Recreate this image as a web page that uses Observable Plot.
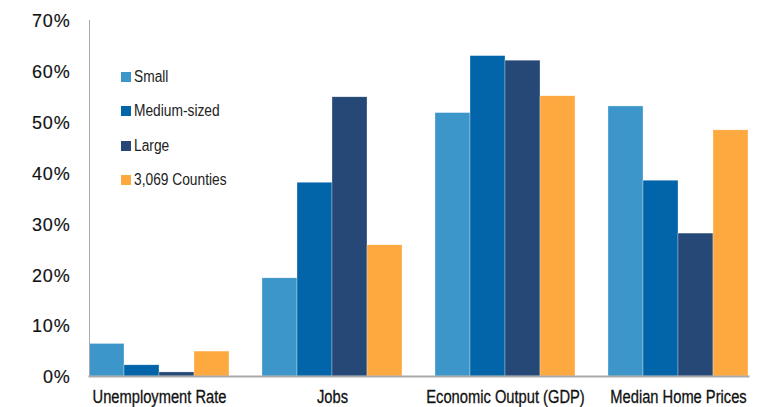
<!DOCTYPE html>
<html>
<head>
<meta charset="utf-8">
<script src="https://cdn.jsdelivr.net/npm/d3@7"></script>
<script src="https://cdn.jsdelivr.net/npm/@observablehq/plot@0.6"></script>
<style>
  html, body { margin: 0; padding: 0; background: #fff; }
  #wrap { position: relative; width: 766px; height: 407px; }
  #legend { position: absolute; left: 121px; top: 60px; font-family: "Liberation Sans", Arial, sans-serif; font-size: 16px; color: #222; }
  #legend .row { display: flex; align-items: center; height: 34.3px; }
  #legend .sw { width: 10px; height: 10px; margin-right: 3px; flex: none; }
  #legend .lab { display: inline-block; transform: scaleX(0.86); transform-origin: left center; white-space: nowrap; }
</style>
</head>
<body>
<div id="wrap"><div id="legend"></div></div>
<script>
const categories = ["Unemployment Rate", "Jobs", "Economic Output (GDP)", "Median Home Prices"];
const series = ["Small", "Medium-sized", "Large", "3,069 Counties"];
const colors = ["#3d96c9", "#0265a9", "#254876", "#fea840"];
const small = [6.4, 19.3, 51.8, 53.1];
const medium = [2.2, 38.1, 63.0, 38.5];
const large = [0.8, 54.9, 62.1, 28.1];
const counties = [4.9, 25.8, 55.1, 48.4];
const yTicks = [0, 10, 20, 30, 40, 50, 60, 70];

const valuesBySeries = [small, medium, large, counties];
const data = [];
categories.forEach((c, i) => {
  series.forEach((s, j) => data.push({category: c, series: s, value: valuesBySeries[j][i]}));
});

const chart = Plot.plot({
  width: 766,
  height: 407,
  marginLeft: 72,
  marginRight: 0,
  marginTop: 20,
  marginBottom: 31,
  style: {fontFamily: "'Liberation Sans', Arial, sans-serif", fontSize: "17px", color: "#111", background: "#fff"},
  fx: {domain: categories, paddingInner: 0.19, paddingOuter: 0.1, label: null, axis: null},
  x: {domain: series, padding: 0, axis: null},
  y: {domain: [0, 70], ticks: yTicks, label: null, axis: null},
  color: {domain: series, range: colors},
  marks: [
    Plot.barY(data, {fx: "category", x: "series", y: "value", fill: "series", stroke: "#fff", strokeWidth: 0.5, strokeOpacity: 0.6}),
    Plot.axisY({ticks: yTicks, tickFormat: d => d + "%", tickSize: 0, tickPadding: 0, dx: -19, dy: 1, label: null, fontSize: 18}),
    Plot.axisFx({anchor: "bottom", label: null, tickSize: 0, tickPadding: 14, fontSize: 17.5}),
    Plot.frame({anchor: "left", stroke: "#aaa", facet: "super"}),
    Plot.frame({anchor: "bottom", stroke: "#aaa", strokeWidth: 2, facet: "super"})
  ]
});
document.getElementById("wrap").prepend(chart);

// condense the category labels (narrow face not installed)
chart.querySelectorAll("[aria-label='fx-axis tick label'] text").forEach(t => {
  const tr = t.getAttribute("transform") || "";
  t.setAttribute("transform", tr + " scale(0.84,1)");
  t.style.stroke = "#111";
  t.style.strokeWidth = "0.3px";
});
chart.querySelectorAll("[aria-label='y-axis tick label'] text").forEach(t => {
  t.style.letterSpacing = "0.8px";
  t.style.stroke = "#111";
  t.style.strokeWidth = "0.15px";
});

const legend = document.getElementById("legend");
series.forEach((s, j) => {
  const row = document.createElement("div");
  row.className = "row";
  row.innerHTML = `<span class="sw" style="background:${colors[j]}"></span><span class="lab">${s}</span>`;
  legend.appendChild(row);
});
</script>
</body>
</html>
